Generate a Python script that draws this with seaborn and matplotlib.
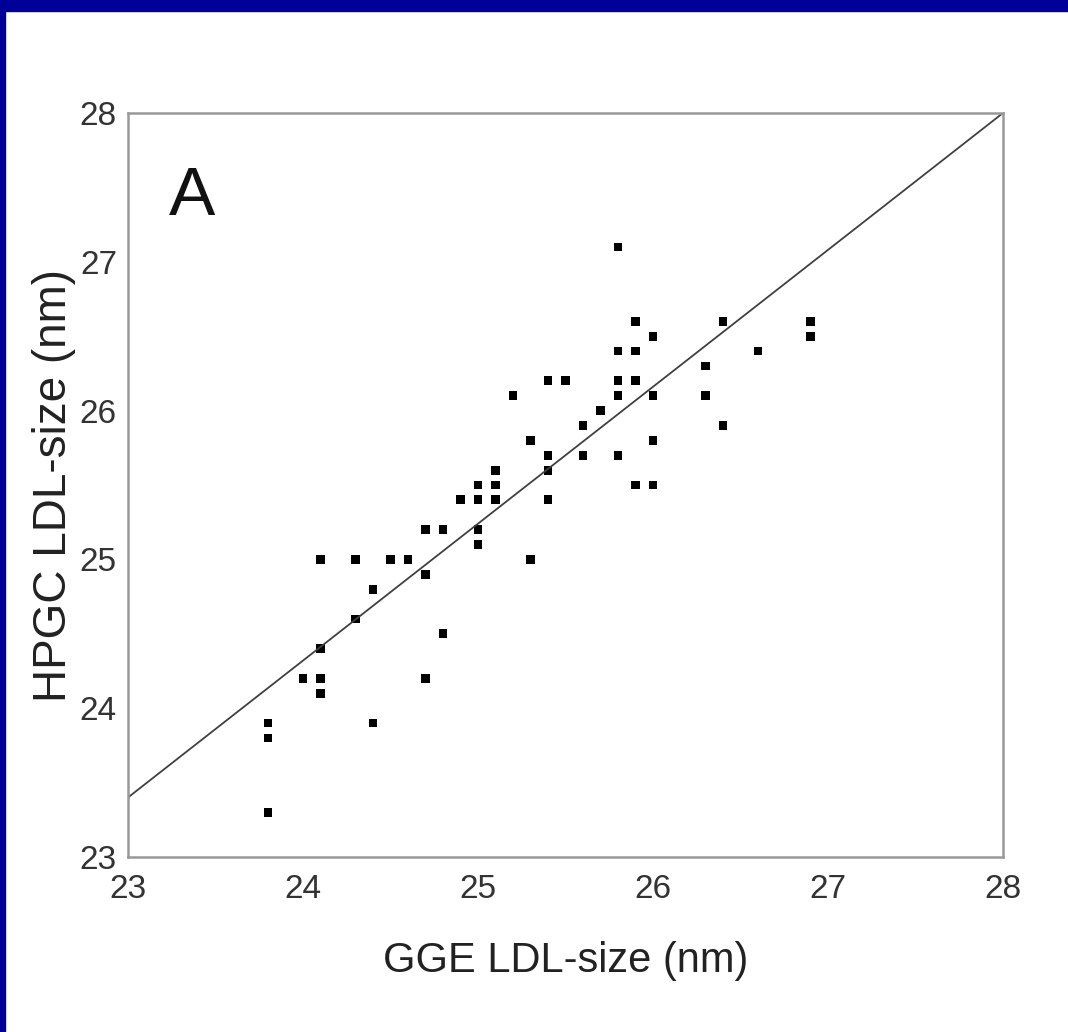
import matplotlib
matplotlib.use("Agg")
import matplotlib.pyplot as plt
import seaborn as sns
import pandas as pd
from matplotlib.patches import Rectangle

# ---- data ----
gge_size = [23.8, 23.8, 23.8,
            24.0, 24.1, 24.1, 24.1, 24.1,
            24.3, 24.3, 24.4, 24.4,
            24.5, 24.6, 24.7, 24.7, 24.7, 24.8, 24.8,
            24.9, 25.0, 25.0, 25.0, 25.0,
            25.1, 25.1, 25.1,
            25.2, 25.3, 25.3,
            25.4, 25.4, 25.4, 25.4, 25.5,
            25.6, 25.6, 25.7,
            25.8, 25.8, 25.8, 25.8, 25.8,
            25.9, 25.9, 25.9, 25.9,
            26.0, 26.0, 26.0, 26.0,
            26.3, 26.3, 26.4, 26.4, 26.6,
            26.9, 26.9]
hpgc_size = [23.3, 23.8, 23.9,
             24.2, 24.1, 24.2, 24.4, 25.0,
             24.6, 25.0, 24.8, 23.9,
             25.0, 25.0, 24.9, 25.2, 24.2, 25.2, 24.5,
             25.4, 25.1, 25.2, 25.4, 25.5,
             25.4, 25.5, 25.6,
             26.1, 25.8, 25.0,
             26.2, 25.7, 25.6, 25.4, 26.2,
             25.9, 25.7, 26.0,
             27.1, 26.4, 26.2, 26.1, 25.7,
             26.6, 26.4, 26.2, 25.5,
             26.5, 26.1, 25.8, 25.5,
             26.3, 26.1, 26.6, 25.9, 26.4,
             26.6, 26.5]
fit_x = [23.0, 28.0]
fit_y = [23.4, 28.0]
tick_values = [23, 24, 25, 26, 27, 28]
x_label = "GGE LDL-size (nm)"
y_label = "HPGC LDL-size (nm)"
panel_label = "A"

df = pd.DataFrame({"gge": gge_size, "hpgc": hpgc_size})
fit_df = pd.DataFrame({"x": fit_x, "y": fit_y})

sns.set_theme(style="white")
plt.rcParams['font.family'] = ['Liberation Sans', 'DejaVu Sans']
narrow = ['Liberation Sans Narrow', 'Liberation Sans']

fig = plt.figure(figsize=(10.68, 10.32), dpi=100)
fig.patch.set_facecolor("white")
ax = fig.add_axes([128/1068, 1 - 857/1032, (1003-128)/1068, (857-113)/1032])

sns.lineplot(data=fit_df, x="x", y="y", ax=ax, color="#404040", linewidth=1.3)
sns.scatterplot(data=df, x="gge", y="hpgc", ax=ax, color="black", s=40,
                marker="s", edgecolor="none", linewidth=0)

ax.set_xlim(23, 28)
ax.set_ylim(23, 28)
ax.set_xticks(tick_values)
ax.set_yticks(tick_values)
ax.set_xticklabels([str(t) for t in tick_values], family=narrow,
                   fontsize=24, color="#333333")
ax.set_yticklabels([str(t) for t in tick_values], family=narrow,
                   fontsize=24, color="#333333")
ax.tick_params(axis="both", direction="in", length=12, width=1.2, color="#888888")
ax.tick_params(axis="x", pad=12)
ax.tick_params(axis="y", pad=8)

for sp in ax.spines.values():
    sp.set_color("#999999")
    sp.set_linewidth(1.8)
    sp.set_visible(True)

ax.set_xlabel(x_label, fontsize=30, color="#222222", labelpad=26)
ax.set_ylabel(y_label, fontsize=33, color="#222222", labelpad=3)

ax.text(0.073, 0.887, panel_label, transform=ax.transAxes, fontsize=50,
        family=narrow, color="#111111", ha="center", va="center")

# blue frame (left and top edges)
fig.patches.append(Rectangle((0, 0), 5/1068, 1, transform=fig.transFigure,
                             color="#000099", zorder=10))
fig.patches.append(Rectangle((0, 1 - 11/1032), 1, 11/1032, transform=fig.transFigure,
                             color="#000099", zorder=10))

fig.savefig("out.png", dpi=100, facecolor="white")
